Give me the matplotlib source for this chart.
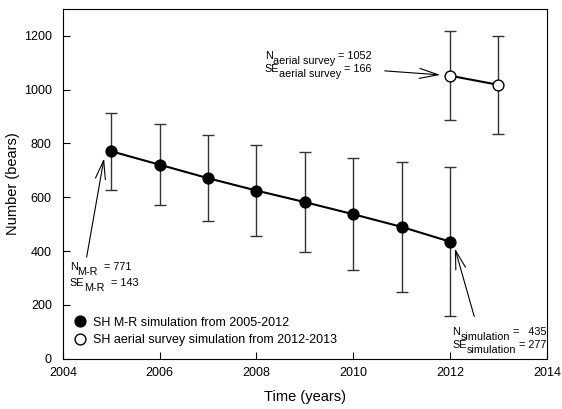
import matplotlib.pyplot as plt

plt.rcParams['font.family'] = ['Liberation Sans', 'DejaVu Sans']

# M-R simulation, 2005-2012
mr_years = [2005, 2006, 2007, 2008, 2009, 2010, 2011, 2012]
mr_n = [771, 721, 671, 625, 582, 537, 490, 435]
mr_se = [143, 151, 159, 170, 187, 209, 241, 277]

# aerial survey simulation, 2012-2013
air_years = [2012, 2013]
air_n = [1052, 1018]
air_se = [166, 182]

fig = plt.figure(figsize=(5.62, 4.09), dpi=100)
ax = fig.add_axes([0.112, 0.123, 0.861, 0.855])

ax.errorbar(mr_years, mr_n, yerr=mr_se, fmt='none', ecolor='#333333',
            elinewidth=1, capsize=4.3, capthick=1)
ax.errorbar(air_years, air_n, yerr=air_se, fmt='none', ecolor='#333333',
            elinewidth=1, capsize=4.3, capthick=1)
ax.plot(mr_years, mr_n, '-', color='black', lw=1.5, marker='o', ms=7.8,
        mfc='black', mec='black', label='SH M-R simulation from 2005-2012')
ax.plot(air_years, air_n, '-', color='black', lw=1.5, marker='o', ms=7.8,
        mfc='white', mec='black', mew=1,
        label='SH aerial survey simulation from 2012-2013')

FS = 7.8


def sub_text(x, y, main, sub, rest):
    # main letter, a full-size lowered subscript, then the value
    t1 = ax.text(x, y, main, fontsize=FS, va='bottom', ha='left')
    t2 = ax.annotate(sub, xy=(1, 0), xycoords=t1, xytext=(0, -3.6),
                     textcoords='offset points', fontsize=FS,
                     va='bottom', ha='left')
    ax.annotate(rest, xy=(1, 0), xycoords=(t2, t1), fontsize=FS,
                va='bottom', ha='left')


def arrow(tail, tip):
    ax.annotate('', xy=tip, xytext=tail,
                arrowprops=dict(arrowstyle='->,head_length=0.75,head_width=0.2',
                                color='black', lw=0.8, mutation_scale=18,
                                shrinkA=0, shrinkB=0))


# M-R labels
sub_text(2004.14, 322, 'N', 'M-R', '  = 771')
sub_text(2004.14, 261, 'SE', 'M-R', '  = 143')
arrow((2004.49, 378), (2004.85, 745))

# aerial survey labels
sub_text(2008.17, 1108, 'N', 'aerial survey', ' = 1052')
sub_text(2008.17, 1058, 'SE', 'aerial survey', ' = 166')
arrow((2010.65, 1070), (2011.8, 1055))

# last M-R year labels
sub_text(2012.05, 82, 'N', 'simulation', ' =   435')
sub_text(2012.05, 32, 'SE', 'simulation', ' = 277')
arrow((2012.5, 157), (2012.1, 410))

ax.set_xlim(2004, 2014)
ax.set_ylim(0, 1300)
ax.set_xticks([2004, 2006, 2008, 2010, 2012, 2014])
ax.set_yticks([0, 200, 400, 600, 800, 1000, 1200])
ax.tick_params(direction='in', labelsize=9, length=5)
ax.tick_params(axis='x', pad=6)
ax.tick_params(axis='y', pad=8)
ax.set_xlabel('Time (years)', fontsize=10.5, labelpad=8)
ax.set_ylabel('Number (bears)', fontsize=10.5, labelpad=3)

leg = ax.legend(loc='lower left', frameon=False, fontsize=9, handlelength=0.8,
                handletextpad=0.6, labelspacing=0.45, borderaxespad=0.6)
for h in leg.legend_handles:
    h.set_linestyle('none')

fig.savefig('out.png', dpi=100)
